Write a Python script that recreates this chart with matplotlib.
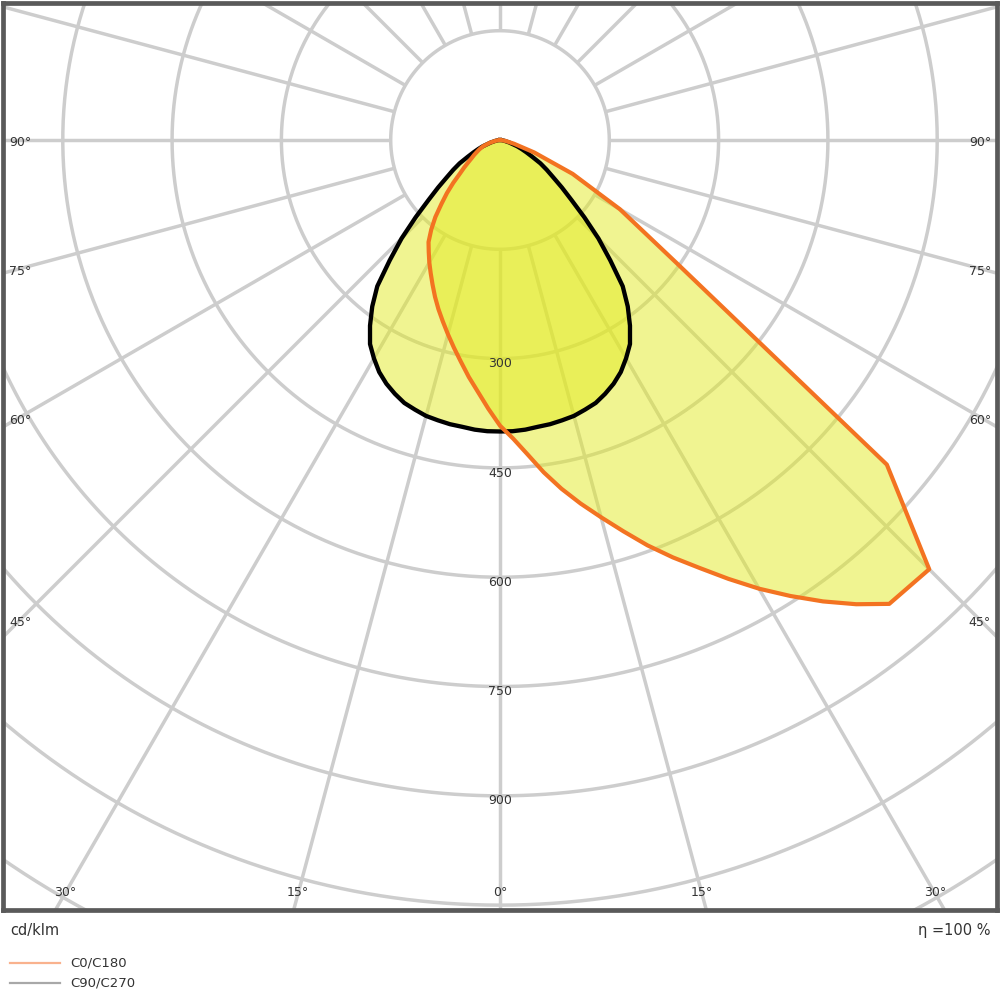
import numpy as np
import matplotlib
matplotlib.use("Agg")
import matplotlib.pyplot as plt

# ---------------- data (cd/klm) ----------------
# C0 half-plane (drawn to the right)
gamma_c0 = [0, 2.5, 5, 7.5, 10, 12.5, 15, 17.5, 20, 22.5, 25, 27.5, 30, 32.5, 35,
            37.5, 40, 45, 50, 55, 60, 65, 70, 75, 80, 85, 90]
c0 = [392, 410, 433, 460, 486, 511, 536, 563, 592, 620, 648, 679, 711, 742, 773,
      803, 831, 833, 693, 300, 190, 110, 50, 20, 8, 2, 0]

# C180 half-plane (drawn to the left) and C90/C270 (symmetric)
gamma_fine = [0, 2.5, 5, 7.5, 10, 12.5, 15, 17.5, 20, 22.5, 25, 27.5, 30, 32.5, 35,
              37.5, 40, 42.5, 45, 47.5, 50, 52.5, 55, 57.5, 60, 62.5, 65, 67.5, 70,
              75, 80, 85, 90]
c180 = [392, 369, 347, 328, 309, 292, 276, 261, 247, 233, 219, 206, 194, 182, 171,
        155, 138, 119, 103, 87, 72, 62, 53, 46, 41, 36, 32, 28, 24,
        14, 6, 2, 0]
c90 = [400, 400, 399, 397, 396, 394, 392, 388, 384, 377, 369, 359, 346, 332, 311,
       288, 262, 224, 191, 157, 128, 107, 89, 76, 64, 50, 40, 32, 25,
       13, 6, 2, 0]

ring_values = [150, 300, 450, 600, 750, 900, 1050, 1200, 1350, 1500]
ring_labels = [300, 450, 600, 750, 900]
spoke_angles = list(range(0, 360, 15))
side_label_angles = [90, 75, 60, 45]
bottom_label_angles = [-30, -15, 0, 15, 30]

# ---------------- geometry ----------------
S = 0.7287          # pixels per cd/klm
CX, CY = 500, 140   # pole position in pixels
L, R, T, B = 3, 997, 3, 910   # frame in pixels

fig = plt.figure(figsize=(10, 10), dpi=100)
ax = fig.add_axes([L / 1000, 1 - B / 1000, (R - L) / 1000, (B - T) / 1000])
ax.set_xlim((L - CX) / S, (R - CX) / S)
ax.set_ylim(-(B - CY) / S, (CY - T) / S)
ax.set_aspect("auto")
ax.set_xticks([])
ax.set_yticks([])
for sp in ax.spines.values():
    sp.set_color("#5a5a5a")
    sp.set_linewidth(3.4)
    sp.set_zorder(10)

def pol(r, g_deg):
    g = np.radians(np.asarray(g_deg, dtype=float))
    r = np.asarray(r, dtype=float)
    return r * np.sin(g), -r * np.cos(g)

grid_col = "#cdcdcd"
# rings
tt = np.linspace(0, 360, 721)
for rv in ring_values:
    x, y = pol(np.full_like(tt, rv), tt)
    ax.plot(x, y, color=grid_col, lw=2.5, zorder=1, solid_capstyle="butt")
# spokes
for a in spoke_angles:
    x, y = pol([ring_values[0], 3000], [a, a])
    ax.plot(x, y, color=grid_col, lw=2.5, zorder=1, solid_capstyle="butt")

# ring labels
for v in ring_labels:
    ax.text(0, -(v + 7), str(v), ha="center", va="center", fontsize=9,
            color="#333333", zorder=6)

# ---------------- curves ----------------
g_orange = [-g for g in gamma_fine[::-1]] + gamma_c0[1:]
r_orange = c180[::-1] + c0[1:]
g_black = [-g for g in gamma_fine[::-1]] + gamma_fine[1:]
r_black = c90[::-1] + c90[1:]

ox, oy = pol(r_orange, g_orange)
bx, by = pol(r_black, g_black)

fill_col = "#e2ea20"
ax.fill(bx, by, color=fill_col, alpha=0.49, lw=0, zorder=3)
ax.fill(ox, oy, color=fill_col, alpha=0.49, lw=0, zorder=3)
ax.plot(bx, by, color="black", lw=3.1, zorder=4, solid_joinstyle="round")
ax.plot(ox, oy, color="#f37321", lw=3.0, zorder=5, solid_joinstyle="round")

# ---------------- angle labels ----------------
lab_col = "#333333"
xin = (20 - CX) / S          # label centre 15 px inside the frame
for a in side_label_angles:
    g = np.radians(a)
    y_at = -abs(xin) / np.tan(g) if a != 90 else 0.0
    y_at -= 3 / S
    ax.text((9 - CX) / S, y_at, f"{a}°", ha="left", va="center",
            fontsize=9, color=lab_col, zorder=6)
    ax.text((991 - CX) / S, y_at, f"{a}°", ha="right", va="center",
            fontsize=9, color=lab_col, zorder=6)

Yb = (893 - CY) / S
for a in bottom_label_angles:
    x_at = Yb * np.tan(np.radians(a))
    ax.text(x_at, -Yb, f"{abs(a)}°", ha="center", va="center",
            fontsize=9, color=lab_col, zorder=6)

# ---------------- footer texts ----------------
fig.text(10 / 1000, 1 - 930 / 1000, "cd/klm", ha="left", va="center",
         fontsize=10.5, color="#333333")
fig.text(990 / 1000, 1 - 930 / 1000, "η =100 %", ha="right", va="center",
         fontsize=10.5, color="#333333")

# legend
legend_items = [("C0/C180", "#f9b28e"), ("C90/C270", "#a8a8a8")]
for i, (name, col) in enumerate(legend_items):
    yy = 1 - (963 + 20 * i) / 1000
    fig.add_artist(plt.Line2D([10 / 1000, 60 / 1000], [yy, yy], color=col, lw=1.6))
    fig.text(70 / 1000, yy, name, ha="left", va="center", fontsize=9.5,
             color="#333333")

fig.savefig("out.png", dpi=100, facecolor="white")
